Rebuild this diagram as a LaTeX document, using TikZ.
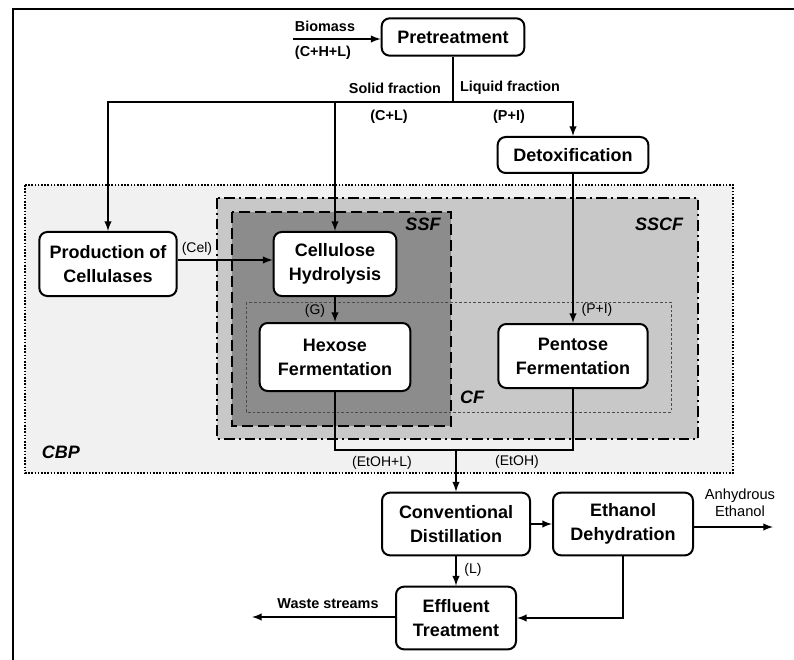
\documentclass[tikz,border=0pt]{standalone}
\usepackage{fontspec}
\setmainfont{Liberation Sans}
\usetikzlibrary{calc,shapes,arrows}
\definecolor{cbpgrey}{RGB}{241,241,241}
\definecolor{sscfgrey}{RGB}{200,200,200}
\definecolor{ssfgrey}{RGB}{140,140,140}

\begin{document}
\begin{tikzpicture}[x=0.75pt,y=-0.75pt,
    proc/.style={draw, line width=1.5pt, rounded corners=6pt, fill=white, align=center, inner sep=0pt,
      font=\fontsize{13.5}{18}\selectfont\bfseries},
    flow/.style={line width=1.5pt},
    lbl/.style={inner sep=1pt, font=\fontsize{10.8}{13}\selectfont\bfseries},
    tag/.style={inner sep=1pt, font=\fontsize{10.5}{13}\selectfont},
    zone/.style={inner sep=0pt, font=\fontsize{13.5}{16}\selectfont\bfseries\itshape}]
    \useasboundingbox (0,0) rectangle (794,660);

    \draw [line width=1pt] (13,660) -- (13,9) -- (794,9);

    \draw [fill=cbpgrey, line width=1.5pt, dash pattern=on 1.2pt off 1.2pt] (25,185) rectangle (733,473);
    \draw [fill=sscfgrey, line width=1.5pt, dash pattern=on 8pt off 3pt on 1.5pt off 3pt] (217,198) rectangle (698,439);
    \draw [fill=ssfgrey, line width=1.5pt, dash pattern=on 8pt off 4pt] (232,212) rectangle (451,426);
    \draw [draw=black!70, line width=0.5pt, dash pattern=on 2pt off 1.5pt] (246,302) rectangle (671,412);

    \node [zone] (cbp) at (61,452) {CBP};
    \node [zone] (sscf) at (659,224) {SSCF};
    \node [zone] (ssf) at (423,224) {SSF};
    \node [zone] (cf) at (472,397) {CF};

    \node [proc, minimum width=107pt, minimum height=28pt] (pre) at (453,37) {Pretreatment};
    \node [proc, minimum width=113pt, minimum height=27pt] (detox) at (573,155) {Detoxification};
    \node [proc, minimum width=103pt, minimum height=48pt] (prod) at (108,264) {Production of\\Cellulases};
    \node [proc, minimum width=92pt, minimum height=48pt] (hydro) at (335,264) {Cellulose\\Hydrolysis};
    \node [proc, minimum width=113pt, minimum height=51pt] (hexose) at (335,357) {Hexose\\Fermentation};
    \node [proc, minimum width=112pt, minimum height=48pt] (pentose) at (573,356) {Pentose\\Fermentation};
    \node [proc, minimum width=111pt, minimum height=47pt] (dist) at (456,524) {Conventional\\Distillation};
    \node [proc, minimum width=105pt, minimum height=47pt] (dehyd) at (623,524) {Ethanol\\Dehydration};
    \node [proc, minimum width=90pt, minimum height=47pt] (effl) at (456,618) {Effluent\\Treatment};

    \coordinate (bio) at (293,39);
    \coordinate (split) at (453,102);
    \coordinate (merge) at (456,450);
    \coordinate (anh) at (773,527);
    \coordinate (waste) at (252,617);

    \draw [flow, -latex] (bio) -- (pre.west |- bio);
    \draw [flow] (pre.south) -- (split);
    \draw [flow, -latex] (split) -| (prod.north);
    \draw [flow, -latex] (split) -| (hydro.north);
    \draw [flow, -latex] (split) -| (detox.north);
    \draw [flow, -latex] (detox.south) -- (pentose.north);
    \draw [flow, -latex] (prod.east |- 0,260) -- (hydro.west |- 0,260);
    \draw [flow, -latex] (hydro.south) -- (hexose.north);
    \draw [flow] (hexose.south) |- (merge);
    \draw [flow] (pentose.south) |- (merge);
    \draw [flow, -latex] (merge) -- (dist.north);
    \draw [flow, -latex] (dist.east) -- (dehyd.west);
    \draw [flow, -latex] (dehyd.east |- anh) -- (anh);
    \draw [flow, -latex] (dist.south) -- (effl.north);
    \draw [flow, -latex] (dehyd.south) |- (effl.east);
    \draw [flow, -latex] (effl.west |- waste) -- (waste);

    \node [lbl] (biomass) at (325,26) {Biomass};
    \node [lbl] (chl) at (323,53) {(C+H+L)};
    \node [lbl] (solid) at (395,88) {Solid fraction};
    \node [lbl] (liquid) at (510,88) {Liquid fraction};
    \node [lbl] (cl) at (389,117) {(C+L)};
    \node [lbl] (pi) at (509,117) {(P+I)};
    \node [tag] (cel) at (197,249) {(Cel)};
    \node [tag] (g) at (315,311) {(G)};
    \node [tag] (pi2) at (597,310) {(P+I)};
    \node [tag] (etohl) at (382,463) {(EtOH+L)};
    \node [tag] (etoh) at (517,462) {(EtOH)};
    \node [tag] (l) at (473,570) {(L)};
    \node [tag, align=center, font=\fontsize{11}{13}\selectfont] (anhlbl) at (740,503) {Anhydrous\\Ethanol};
    \node [lbl] (wastelbl) at (328,604) {Waste streams};
\end{tikzpicture}
\end{document}
